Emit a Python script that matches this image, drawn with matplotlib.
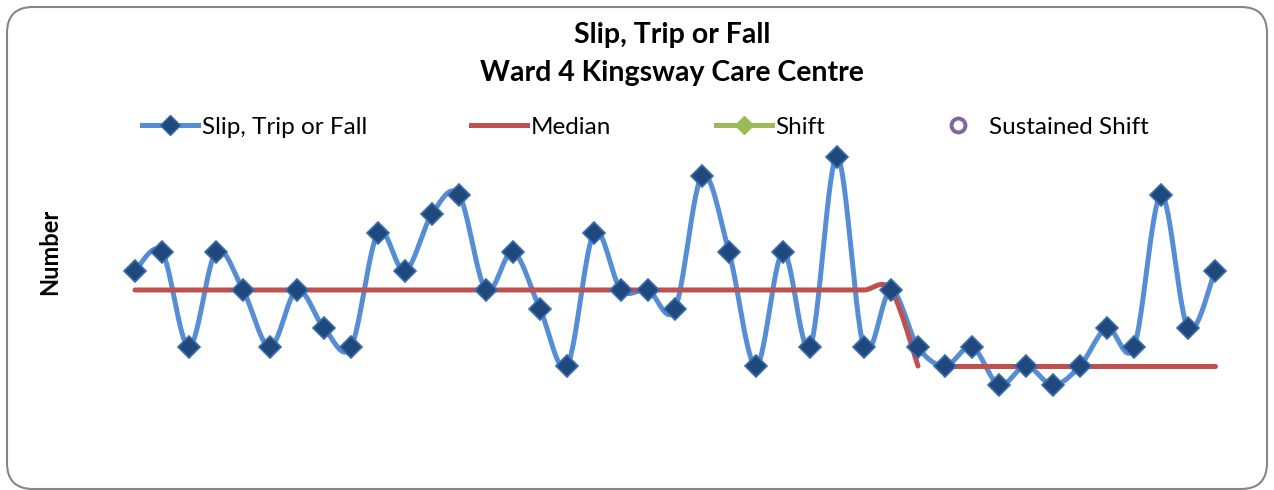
import numpy as np
import matplotlib.pyplot as plt
from matplotlib.lines import Line2D
from matplotlib.patches import FancyBboxPatch

plt.rcParams['font.family'] = ['Lato', 'DejaVu Sans']

# monthly counts and median runs
counts = [7, 8, 3, 8, 6, 3, 6, 4, 3, 9, 7, 10, 11, 6, 8, 5, 2, 9, 6, 6,
          5, 12, 8, 2, 8, 3, 13, 3, 6, 3, 2, 3, 1, 2, 1, 2, 4, 3, 11, 4, 7]
median_a = [6] * 29 + [2]          # points 0-29
median_b = [2] * 11                # points 30-40


def smooth(xs, ys, n=30):
    # excel-style smoothed line: catmull-rom through every point
    xs = np.asarray(xs, float)
    ys = np.asarray(ys, float)
    px = np.concatenate([[xs[0]], xs, [xs[-1]]])
    py = np.concatenate([[ys[0]], ys, [ys[-1]]])
    t = np.linspace(0, 1, n)[:, None]
    outx, outy = [], []
    for i in range(1, len(px) - 2):
        p0 = np.array([px[i], py[i]])
        p3 = np.array([px[i + 1], py[i + 1]])
        c1 = p0 + (np.array([px[i + 1], py[i + 1]]) - np.array([px[i - 1], py[i - 1]])) / 6
        c2 = p3 - (np.array([px[i + 2], py[i + 2]]) - np.array([px[i], py[i]])) / 6
        b = ((1 - t) ** 3) * p0 + 3 * ((1 - t) ** 2) * t * c1 + 3 * (1 - t) * t ** 2 * c2 + t ** 3 * p3
        outx.append(b[:, 0])
        outy.append(b[:, 1])
    return np.concatenate(outx), np.concatenate(outy)


blue = '#558ED5'
navy = '#1F497D'
red = '#C0504D'
green = '#9BBB59'
purple = '#8064A2'

fig = plt.figure(figsize=(12.74, 4.9), dpi=100)

# rounded chart border, in pixels
frame = FancyBboxPatch((7, 1), 1260, 482, boxstyle='round,pad=0,rounding_size=26',
                       transform=None, facecolor='white', edgecolor='#868686',
                       linewidth=1.5, zorder=0)
fig.patches.append(frame)

ax = fig.add_axes([108 / 1274, 1 - 404 / 490, 1134 / 1274, 266 / 490])
ax.set_zorder(2)
ax.set_xlim(-1, 41)
ax.set_ylim(0, 14)
ax.axis('off')

x = np.arange(len(counts))
sx, sy = smooth(x, counts)
ax.plot(sx, sy, color=blue, lw=3.6, solid_capstyle='round', zorder=2)

xa = np.arange(len(median_a))
ma_x, ma_y = smooth(xa, median_a)
ax.plot(ma_x, ma_y, color=red, lw=3.6, solid_capstyle='round', zorder=3)
xb = np.arange(len(median_a), len(median_a) + len(median_b))
ax.plot(xb, median_b, color=red, lw=3.6, solid_capstyle='round', zorder=3)

ax.plot(x, counts, ls='none', marker='D', ms=11, mfc=navy, mec='#3A6DB0',
        mew=1.2, zorder=4)

fig.text(50 / 1274, 1 - 252 / 490, 'Number', rotation=90, fontsize=17,
         fontweight='bold', ha='center', va='center')
fig.text(672 / 1274, 1 - 35 / 490, 'Slip, Trip or Fall', fontsize=20.5,
         fontweight='bold', ha='center', va='center')
fig.text(672 / 1274, 1 - 73 / 490, 'Ward 4 Kingsway Care Centre', fontsize=20.5,
         fontweight='bold', ha='center', va='center')

handles = [
    Line2D([], [], color=blue, lw=3.6, marker='D', ms=10, mfc=navy, mec='#3A6DB0'),
    Line2D([], [], color=red, lw=3.6),
    Line2D([], [], color=green, lw=3.6, marker='D', ms=9, mfc=green, mec=green),
    Line2D([], [], ls='none', marker='o', ms=10, mfc='white', mec=purple, mew=2.8),
]
labels = ['Slip, Trip or Fall', 'Median', 'Shift', 'Sustained Shift']
leg = fig.legend(handles, labels, loc='center left',
                 bbox_to_anchor=(142 / 1274, 1 - 127 / 490), ncol=4, frameon=False,
                 fontsize=17.5, handlelength=2.3, handletextpad=0.15,
                 columnspacing=4.3, borderaxespad=0, borderpad=0)
leg.set_zorder(3)

fig.savefig('out.png', dpi=100)
